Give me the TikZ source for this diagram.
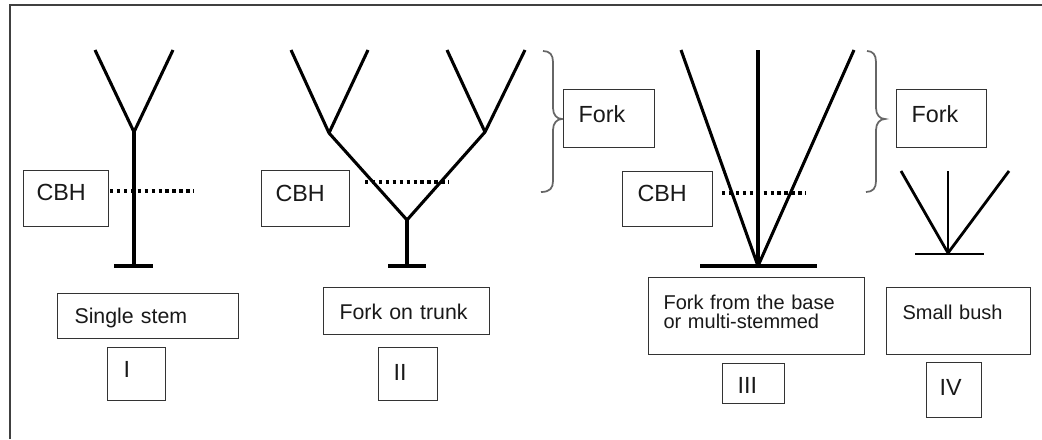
\documentclass[tikz,border=0pt]{standalone}
\usepackage{fontspec}
\setmainfont{Liberation Sans}
\usetikzlibrary{shadows}
\begin{document}
\begin{tikzpicture}[x=0.75pt,y=-0.75pt,
  frame/.style={draw=black!75,line width=1.5pt},
  stem/.style={draw=black,line width=2.3pt,line join=round},
  thin stem/.style={draw=black,line width=1.6pt},
  cbhline/.style={draw=black,line width=3pt,dash pattern=on 2.6pt off 2.6pt},
  brace/.style={draw=black!60,line width=1.3pt},
  box/.style={draw=black!80,fill=white,line width=0.8pt,anchor=north west,
    inner ysep=0pt,minimum width=0pt,minimum height=0pt,align=left,text=black!90,
    drop shadow={shadow xshift=0.7pt,shadow yshift=-0.7pt,fill=black!60,opacity=1}},
  big/.style={font=\fontsize{17.5}{18}\selectfont},
  mid/.style={font=\fontsize{16}{16}\selectfont},
  small/.style={font=\fontsize{15}{14.3}\selectfont}
]
\useasboundingbox (0,0) rectangle (1042,439);
\fill[white] (0,0) rectangle (1042,439);
\draw[frame] (10,439) -- (10,5) -- (1042,5);

% ---- Tree I: single stem
\draw[stem] (95,50) -- (134,132) -- (173,50);
\draw[stem] (134,132) -- (134,266);
\draw[stem] (114,266) -- (153,266);
\draw[cbhline] (110,191) -- (194,191);

% ---- Tree II: fork on trunk
\draw[stem] (291,50) -- (329,133) -- (368,50);
\draw[stem] (447,50) -- (485,132) -- (525,50);
\draw[stem] (329,133) -- (407,220) -- (485,132);
\draw[stem] (407,220) -- (407,266);
\draw[stem] (388,266) -- (426,266);
\draw[cbhline] (365,182) -- (449,182);

% ---- Tree III: fork from the base
\draw[stem] (681,50) -- (758,266) -- (854,50);
\draw[stem] (758,50) -- (758,266);
\draw[stem] (700,266) -- (817,266);
\draw[cbhline] (722,193) -- (806,193);

% ---- Small bush
\draw[stem,line width=2.1pt] (901,171) -- (948,253) -- (1009,171);
\draw[thin stem] (948,171) -- (948,253);
\draw[stem,line width=2.1pt] (915,254) -- (984,254);

% ---- Braces
\draw[brace] (543,51) .. controls (550,51) and (553,55) .. (553,62) -- (553,108)
  .. controls (553,115) and (557,119) .. (562,119)
  .. controls (557,119) and (553,123) .. (553,130) -- (553,181)
  .. controls (553,188) and (550,192) .. (541,192);
\draw[brace] (867,51) .. controls (873,51) and (876,55) .. (876,62) -- (876,108)
  .. controls (876,115) and (880,119) .. (885,119)
  .. controls (880,119) and (876,123) .. (876,130) -- (876,181)
  .. controls (876,188) and (873,192) .. (866,192);

% ---- Boxes
\node[box,big,inner xsep=9.75pt,text width=44.25pt,text height=22.5pt,text depth=19.5pt] (cbh1) at (23,170) {CBH};
\node[box,big,inner xsep=10.5pt,text width=45pt,text height=23.25pt,text depth=18.75pt] (cbh2) at (261,170) {CBH};
\node[box,big,inner xsep=11.25pt,text width=45pt,text height=22.5pt,text depth=18.75pt] (cbh3) at (622,171) {CBH};
\node[box,big,inner xsep=11.25pt,text width=45.75pt,text height=24.75pt,text depth=18.75pt] (fork1) at (563,89) {Fork};
\node[box,big,inner xsep=11.25pt,text width=45pt,text height=24.75pt,text depth=18.75pt] (fork2) at (896,89) {Fork};

\node[box,mid,inner xsep=12.75pt,text width=110.25pt,text height=22.5pt,text depth=11.25pt] (single) at (57,293) {Single stem};
\node[box,mid,inner xsep=12pt,text width=100.5pt,text height=24pt,text depth=11.25pt] (trunk) at (323,287) {Fork on trunk};
\node[box,small,inner xsep=11.25pt,text width=139.5pt,text height=24pt,text depth=33.75pt] (base) at (648,277) {Fork from the base\\or multi-stemmed};
\node[box,small,inner xsep=12pt,text width=84pt,text height=24pt,text depth=26.25pt] (bush) at (886,287) {Small bush};

\node[box,big,inner xsep=12pt,text width=19.5pt,text height=22.5pt,text depth=17.25pt] (r1) at (107,347) {I};
\node[box,big,inner xsep=11.25pt,text width=21.75pt,text height=24.75pt,text depth=15pt] (r2) at (378,347) {II};
\node[box,big,inner xsep=11.25pt,text width=24pt,text height=22.5pt,text depth=7.5pt] (r3) at (722,363) {III};
\node[box,big,inner xsep=9.75pt,text width=21.75pt,text height=24.75pt,text depth=16.5pt] (r4) at (926,362) {IV};
\end{tikzpicture}
\end{document}
